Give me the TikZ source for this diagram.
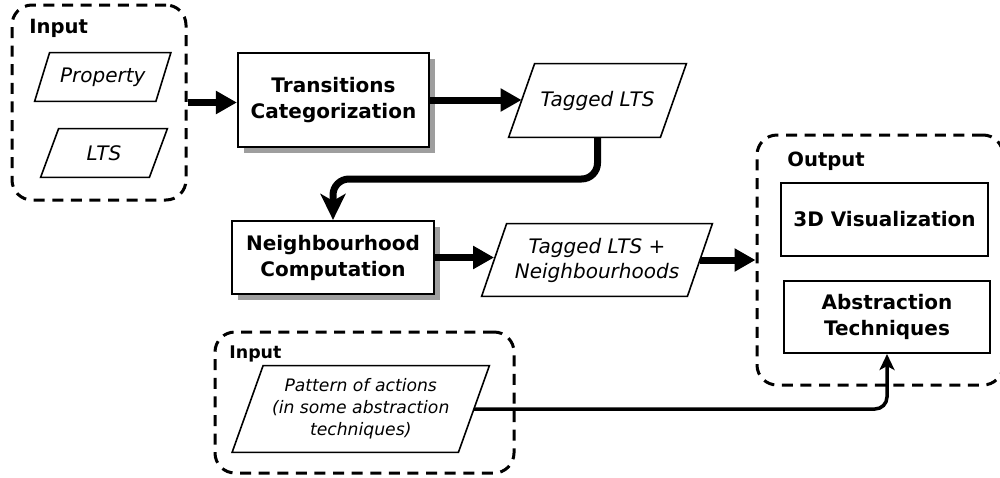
\documentclass[tikz,border=0pt]{standalone}
\usepackage{fontspec}
\setmainfont{DejaVu Sans}
\usetikzlibrary{arrows.meta,shadows,calc}
\newcommand\parashape[2]{\draw[parabox] ([xshift=#2]#1.north west) -- ([xshift=#2]#1.north east) -- ([xshift=-#2]#1.south east) -- ([xshift=-#2]#1.south west) -- cycle;}
\begin{document}
\begin{tikzpicture}[x=0.5pt,y=-0.5pt,
  grp/.style={draw, line width=1.5pt, dash pattern=on 5.5pt off 3.8pt, rounded corners=10pt, inner sep=0pt},
  grplabel/.style={anchor=base west, inner sep=0pt, font=\bfseries\fontsize{9.8}{12}\selectfont},
  proc/.style={draw, line width=1.1pt, fill=white, align=center, inner sep=0pt, font=\bfseries\fontsize{10}{13}\selectfont},
  shadowed/.style={drop shadow={shadow xshift=3pt, shadow yshift=-3pt, fill=black!38, opacity=1}},
  data/.style={inner sep=0pt, align=center, font=\itshape\fontsize{10}{12.5}\selectfont},
  parabox/.style={draw, line width=0.8pt, line join=miter},
  flow/.style={line width=3.5pt, -{Triangle[length=10.5pt,width=11pt]}},
  bentflow/.style={line width=3.5pt, rounded corners=8pt, -{Stealth[length=13pt,width=12.5pt,inset=3.5pt]}},
  thinflow/.style={line width=1.75pt, rounded corners=6pt, -{Stealth[length=8pt,width=7.5pt,inset=2pt]}}]
\useasboundingbox (0,0) rectangle (1000,477);

% groups
\node[grp, minimum width=87pt, minimum height=97.5pt] (in1) at (99,102.5) {};
\node[grplabel] (in1lab) at (29,33) {Input};
\node[grp, minimum width=123pt, minimum height=125pt] (out) at (880,260) {};
\node[grplabel] (outlab) at (787,166) {Output};
\node[grp, minimum width=149.5pt, minimum height=70.5pt] (in2) at (364.5,402.5) {};
\node[grplabel, font=\bfseries\fontsize{8.7}{11}\selectfont] (in2lab) at (229,358) {Input};

% data (parallelograms)
\node[data, minimum width=60.25pt, minimum height=24pt] (prop) at (102.75,77) {Property};
\parashape{prop}{3.75pt}
\node[data, minimum width=54pt, minimum height=24pt] (lts) at (104,153) {LTS};
\parashape{lts}{4.5pt}
\node[data, minimum width=75.5pt, minimum height=36.5pt] (tag) at (597.5,100.5) {Tagged LTS};
\parashape{tag}{6.5pt}
\node[data, minimum width=102.5pt, minimum height=36pt] (tagn) at (597,260) {Tagged LTS +\\Neighbourhoods};
\parashape{tagn}{6.25pt}
\node[data, minimum width=112.75pt, minimum height=43pt, font=\itshape\fontsize{8.6}{11}\selectfont] (pat) at (360.75,409) {Pattern of actions\\(in some abstraction\\techniques)};
\parashape{pat}{7.75pt}

% processes
\node[proc, shadowed, minimum width=95.5pt, minimum height=47pt] (trans) at (333.5,100) {Transitions\\Categorization};
\node[proc, shadowed, minimum width=101pt, minimum height=36.5pt] (neigh) at (333,257.5) {Neighbourhood\\Computation};
\node[proc, line width=1pt, minimum width=103.5pt, minimum height=36.5pt] (viz) at (884.5,219.5) {3D Visualization};
\node[proc, line width=1pt, minimum width=103pt, minimum height=36pt] (abs) at (887,317) {Abstraction\\Techniques};

% connectors
\coordinate (bend) at (460,179);
\draw[flow] (in1.east) -- (in1.east -| trans.west);
\draw[flow] (trans.east) -- (trans.east -| tag.west);
\draw[bentflow] (tag.south) |- (bend) -| (neigh.north);
\draw[flow] (neigh.east) -- (neigh.east -| tagn.west);
\draw[flow] (tagn.east) -- (tagn.east -| out.west);
\draw[thinflow] (pat.east) -| (abs.south);
\end{tikzpicture}
\end{document}
